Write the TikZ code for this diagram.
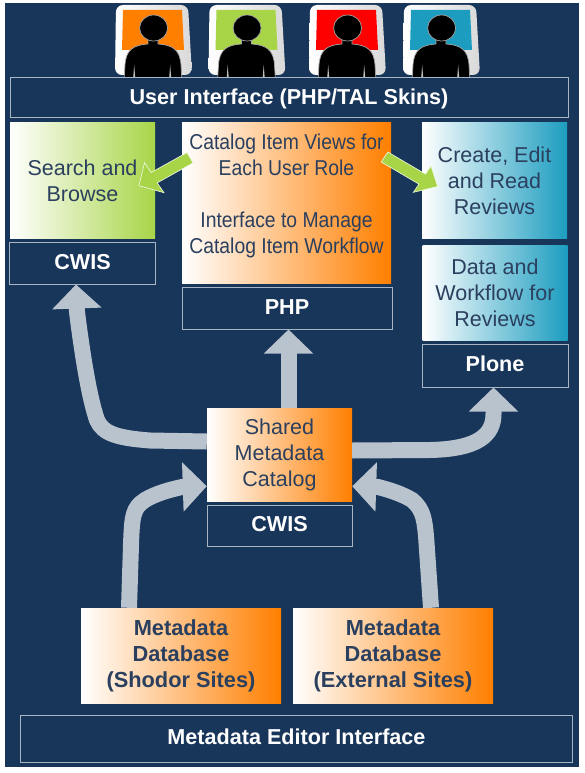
\documentclass[tikz,border=0pt]{standalone}
\usepackage{fontspec}
\setmainfont{Liberation Sans}
\newfontfamily\narrowfont[FakeStretch=0.9]{Liberation Sans}
\usetikzlibrary{arrows.meta, calc}

\definecolor{navy}{HTML}{18355A}
\definecolor{rimgray}{HTML}{A9B5C5}
\definecolor{flowgray}{HTML}{B9C3CE}
\definecolor{inkblue}{HTML}{2B3F5E}
\definecolor{shodororange}{HTML}{FF7F00}
\definecolor{leafgreen}{HTML}{A8D548}
\definecolor{tealblue}{HTML}{1C9DC0}

\tikzset{
    tierbox/.style={draw=rimgray, line width=1pt, fill=navy, text=white, inner sep=0pt,
        text height=15.5pt, text depth=3pt,
        font=\fontsize{21.6}{26}\selectfont\bfseries},
    plainbox/.style={inner sep=0pt, align=center, text=inkblue,
        font=\fontsize{21.5}{26}\selectfont},
    boldbox/.style={plainbox, font=\fontsize{21.8}{26}\selectfont\bfseries},
    orangefade/.style={left color=white, right color=shodororange},
    greenfade/.style={left color=white, right color=leafgreen},
    tealfade/.style={left color=white, right color=tealblue},
    flow/.style={-{Triangle[length=24pt, width=48pt]}, draw=flowgray, line width=16pt},
    hint/.style={fill=leafgreen, draw=white!85!leafgreen, line width=0.6pt, line join=miter},
    pics/user/.style={code={
        % screen behind the person
        \path[left color=white, right color=black!15, rounded corners=7pt]
            (116,5) -- (188,5) -- (192,75) -- (115,75) -- cycle;
        \fill[#1] (123,10) -- (182,10) -- (184,50) -- (122,50) -- cycle;
        % person
        \draw[fill=black, draw=black!35, line width=0.7pt]
            (124,82) -- (125,65) .. controls (126,50) and (133,45) .. (148,44) -- (148,38)
            -- (158,38) -- (158,44) .. controls (173,45) and (180,50) .. (181,65) -- (182,82) -- cycle;
        \draw[fill=black, draw=black!35, line width=0.7pt] (153.6,28) ellipse (14 and 13);
        \fill[black!25] (133,80) -- (134.2,65) -- (135.4,80) -- cycle;
        \fill[black!25] (169,80) -- (170.2,65) -- (171.4,80) -- cycle;
    }}
}

\begin{document}
\begin{tikzpicture}[x=1pt, y=-1pt]

    \useasboundingbox (0,0) rectangle (584,773);

    % background
    \fill[navy] (4.5,3) rectangle (579,767);

    % users on top
    \pic at (0,0) {user=shodororange};
    \pic at (93.5,0) {user=leafgreen};
    \pic at (194,0) {user={red}};
    \pic at (288,0) {user=tealblue};

    \node[tierbox, minimum width=558pt, minimum height=40pt] (skins) at (289,98) {User Interface (PHP/TAL Skins)};

    % left column
    \node[plainbox, greenfade, minimum width=145pt, minimum height=115pt] (search) at (82.5,180.5) {Search and\\Browse};
    \node[tierbox, minimum width=146pt, minimum height=42pt] (cwisleft) at (82.5,263) {CWIS};

    % middle column
    \node[plainbox, orangefade, minimum width=209pt, minimum height=160pt] (views) at (286.5,203) {};
    \node[plainbox, font=\fontsize{21.5}{26}\narrowfont] (viewstext) at (286.5,196) {Catalog Item Views for\\Each User Role\\[26pt]Interface to Manage\\Catalog Item Workflow};
    \node[tierbox, minimum width=210pt, minimum height=42pt] (php) at (287,308) {PHP};

    % right column
    \node[plainbox, tealfade, minimum width=145pt, minimum height=115pt] (reviews) at (494.5,180.5) {Create, Edit\\and Read\\Reviews};
    \node[plainbox, tealfade, minimum width=145pt, minimum height=95pt] (workflow) at (495,292.5) {Data and\\Workflow for\\Reviews};
    \node[tierbox, minimum width=146pt, minimum height=43pt] (plone) at (495,365.5) {Plone};

    % catalog
    \node[plainbox, orangefade, minimum width=145pt, minimum height=93pt] (catalog) at (279.5,454.5) {Shared\\Metadata\\Catalog};
    \node[tierbox, minimum width=145pt, minimum height=41pt] (cwismid) at (279.5,525.5) {CWIS};

    % databases
    \node[boldbox, orangefade, minimum width=200pt, minimum height=95pt] (shodor) at (181,655.5) {Metadata\\Database\\(Shodor Sites)};
    \node[boldbox, orangefade, minimum width=200pt, minimum height=95pt] (external) at (393,655.5) {Metadata\\Database\\(External Sites)};
    \node[tierbox, minimum width=552pt, minimum height=47pt] (editor) at (296.5,738.5) {Metadata Editor Interface};

    % big arrows
    \draw[flow] ([yshift=13pt]catalog.west) -- (150,440.5) .. controls (118,438) and (103,434) .. (97,420) .. controls (90,400) and (83,360) .. (77,312) -- ([xshift=-6.5pt]cwisleft.south);
    \draw[flow] ([xshift=9pt]catalog.north) -- ([xshift=1.5pt]php.south);
    \draw[flow] ([yshift=4pt]catalog.east) -- (430,450) .. controls (478,449) and (493.5,435) .. (493.5,414) -- ([xshift=-1.5pt]plone.south);
    \draw[flow] ([xshift=-52pt]shodor.north) -- (131,545) .. controls (132,515) and (133,508) .. (145,500) .. controls (155,494) and (168,490) .. (182,487) -- ([yshift=15pt]catalog.south west);
    \draw[flow] ([xshift=38pt]external.north) -- (427,550) .. controls (425,520) and (424,510) .. (412,500) .. controls (402,494) and (390,490) .. (378,487) -- ([yshift=15pt]catalog.south east);

    % small green arrows
    \draw[hint] (187,152.5) -- (151.2,172.5) -- (144.5,162.7) -- (139,185.7) -- (164,192.7) -- (157.2,182.9) -- (193,162.9) -- cycle;
    \draw[hint] (387.8,152) -- (425.5,174.1) -- (431,166) -- (437.6,186.5) -- (413.4,192.3) -- (418.9,184.1) -- (381.2,162) -- cycle;

\end{tikzpicture}
\end{document}
